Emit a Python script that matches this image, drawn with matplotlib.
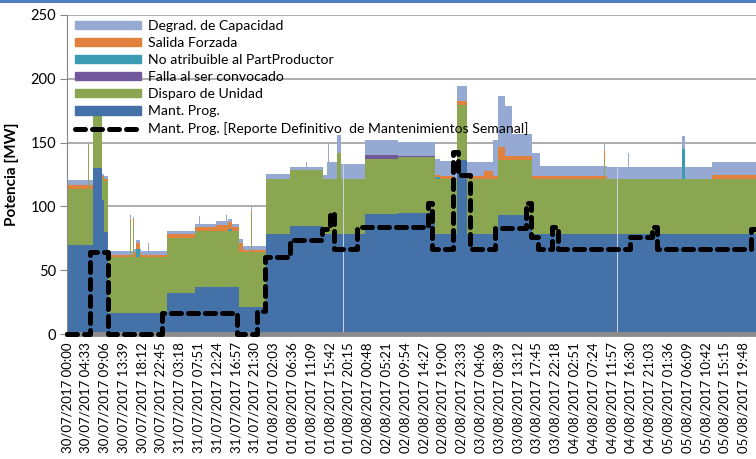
import numpy as np
import pandas as pd
import matplotlib
matplotlib.use("Agg")
import matplotlib.pyplot as plt
from matplotlib.patches import Patch, Rectangle
from matplotlib.lines import Line2D

plt.rcParams['font.family'] = ['Lato', 'DejaVu Sans']

# hours since 30/07/2017 00:00 where each series changes value (step data), and MW from there on
MANT_T = [0, 6.3, 8.5, 9.0, 9.9, 24.2, 31.0, 41.6, 48.2, 54.0, 62.0, 72.2, 80.1, 89.1, 94.4, 96.9, 104.4, 112.6]
MANT_V = [70, 130, 105, 80, 16.5, 32, 37, 21, 78, 85, 78, 94, 95, 78, 136, 78, 93, 78]

DISP_T = [0, 5.1, 5.35, 8.5, 9.0, 9.9, 15.2, 15.4, 15.9, 16.1, 44.5, 44.7, 65.4, 66.3, 129.9, 130.2]
DISP_V = [43.5, 78, 43.5, 17, 40, 43.5, 71.5, 43.5, 68.5, 43.5, 74, 43.5, 64, 43.5, 58, 43.5]

FALLA_T = [0, 72.2, 80.1, 89.1]
FALLA_V = [0, 2.5, 1.2, 0]

NOATR_T = [0, 16.7, 17.7, 39.0, 40.0, 89.1, 90.3, 148.9, 149.6]
NOATR_V = [0, 7, 0, 2, 0, 1.5, 0, 23.5, 0]

SALIDA_T = [0, 5.1, 5.35, 6.3, 8.5, 9.9, 15.9, 18.0, 24.2, 31.0, 36.0, 40.0, 41.6, 42.6, 48.2,
            89.1, 93.5, 94.4, 96.9, 101.0, 103.1, 104.4, 106.1, 112.6, 129.9, 130.2, 130.8, 156.2]
SALIDA_V = [3.5, 1, 3.5, 0, 1.5, 2, 4, 2, 2.5, 3, 5, 3, 7, 1.5, 0,
            2, 0.5, 3, 2.5, 6, 2.5, 10, 3, 2.5, 8, 2.5, 0, 3.5]

DEGRAD_T = [0, 5.1, 5.35, 6.3, 8.5, 9.9, 19.6, 19.8, 32.0, 32.3, 38.5, 38.8, 48.2, 49.3, 49.5, 54.0,
            57.9, 58.1, 62.0, 63.0, 63.3, 63.5, 65.4, 66.3, 80.1, 89.1, 94.4, 96.9, 101.0, 103.1,
            104.4, 106.1, 107.7, 112.6, 114.5, 129.9, 130.2, 130.8, 135.7, 136.0, 148.9, 149.6, 156.2]
DEGRAD_V = [3.5, 0.5, 3.5, 0, 2, 3, 9, 3, 9, 3, 8, 3, 4, 7, 4, 2.5,
            6.5, 2.5, 3, 13, 28, 13, 14, 12, 10.5, 12, 11.5, 11, 7, 28,
            40, 39, 17, 18, 8, 6, 8, 9.5, 20, 9.5, 10, 9.5, 10]

# "Mant. Prog. [Reporte Definitivo de Mantenimientos Semanal]"
REP_T = [0, 5.6, 9.9, 23.0, 41.2, 46.0, 47.9, 54.0, 61.7, 63.7, 64.6, 70.2, 87.4, 88.4, 93.5, 94.7,
         97.6, 103.6, 111.1, 112.3, 114.0, 117.4, 118.9, 136.3, 141.6, 142.9, 165.6]
REP_V = [0, 64, 0, 16.5, 0, 18, 60, 74, 82, 95, 67, 84, 103, 67, 143, 125,
         67, 83, 103, 76, 67, 84, 67, 76, 84, 67, 82]

END_H = 168
GAPS_H = [66.8, 133.2]

LABELS = ["Mant. Prog.", "Disparo de Unidad", "Falla al ser convocado",
          "No atribuible al PartProductor", "Salida Forzada", "Degrad. de Capacidad"]
COLORS = ["#4472a8", "#8aa650", "#71589b", "#3b9bb2", "#e0823e", "#95a9d3"]

series = [(MANT_T, MANT_V), (DISP_T, DISP_V), (FALLA_T, FALLA_V),
          (NOATR_T, NOATR_V), (SALIDA_T, SALIDA_V), (DEGRAD_T, DEGRAD_V)]
grid = np.unique(np.concatenate([np.array(t, float) for t, _ in series] + [[END_H]]))

def held(t, v):
    i = np.searchsorted(np.array(t, float), grid, side="right") - 1
    return np.array(v, float)[i]

fig = plt.figure(figsize=(7.56, 4.59), dpi=100)
ax = fig.add_axes([67/756, 125/459, 694/756, 319/459])

base = np.zeros_like(grid)
for (t, v), c in zip(series, COLORS):
    top = base + held(t, v)
    ax.fill_between(grid, base, top, step="post", color=c, lw=0, zorder=2)
    base = top

for g in GAPS_H:
    k = np.searchsorted(grid, g, side="right") - 1
    ax.vlines(g, 0, base[k], color="#c9d3e6", lw=0.7, zorder=3)

rt = list(REP_T) + [END_H]
rv = list(REP_V) + [REP_V[-1]]
ax.step(rt, rv, where="post", color="black", lw=3.6, dashes=(2.0, 1.4),
        dash_capstyle="round", zorder=6, clip_on=False)

ax.set_xlim(0, END_H)
ax.set_ylim(0, 250)
ax.set_yticks([0, 50, 100, 150, 200, 250])
ax.yaxis.grid(True, color="#a6a6a6", lw=1.3, zorder=1)
ax.set_axisbelow(True)

ticks = pd.date_range("2017-07-30 00:00", periods=37, freq="273min")
tick_h = (ticks - ticks[0]).total_seconds() / 3600
ax.set_xticks(tick_h)
ax.set_xticklabels([d.strftime("%d/%m/%Y %H:%M") for d in ticks], rotation=90, fontsize=9.5)
ax.tick_params(axis="x", length=0, pad=6)
ax.tick_params(axis="y", length=5, color="#868686", labelsize=10.5, pad=3)
for s in ("top", "right"):
    ax.spines[s].set_visible(False)
ax.spines["left"].set_color("#868686")
ax.spines["bottom"].set_color("#8c8c8c")
ax.spines["bottom"].set_linewidth(3.5)
ax.spines["bottom"].set_zorder(5)
ax.set_ylabel("Potencia [MW]", fontsize=11, fontweight="bold")
ax.yaxis.set_label_coords(-(67 - 19)/694, 0.5)

handles = [Patch(color=c) for c in COLORS[::-1]]
handles.append(Line2D([], [], color="black", lw=3.6, dashes=(2.0, 1.4), dash_capstyle="round"))
labels = LABELS[::-1] + ["Mant. Prog. [Reporte Definitivo  de Mantenimientos Semanal]"]
ax.legend(handles, labels, loc="upper left", bbox_to_anchor=(8/694, 1 - 5/319), frameon=False,
          fontsize=10.1, handlelength=4.7, handleheight=0.55, labelspacing=0.36,
          handletextpad=0.5, borderaxespad=0.0, borderpad=0.0)

fig.add_artist(Rectangle((0, 1 - 3/459), 1, 3/459, transform=fig.transFigure,
                         color="#4f7fbf", lw=0))

fig.savefig("out.png", dpi=100)
